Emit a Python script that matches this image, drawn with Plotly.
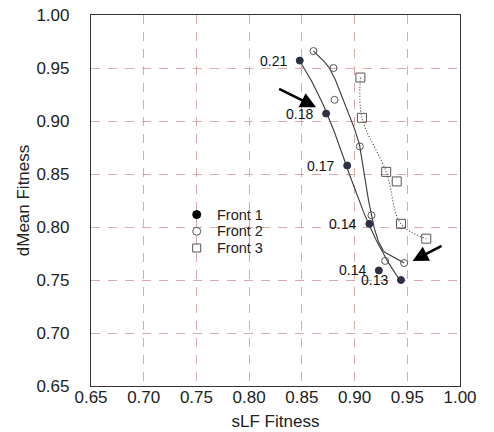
import numpy as np
import plotly.graph_objects as go

# ---- data ----
series_names = ["Front 1", "Front 2", "Front 3"]

front1_x = [0.848, 0.873, 0.893, 0.914, 0.923, 0.944]
front1_y = [0.957, 0.907, 0.858, 0.803, 0.759, 0.750]
front1_labels = ["0.21", "0.18", "0.17", "0.14", "0.14", "0.13"]

front2_x = [0.861, 0.880, 0.881, 0.905, 0.916, 0.929, 0.947]
front2_y = [0.966, 0.950, 0.920, 0.876, 0.811, 0.768, 0.766]

front3_x = [0.9055, 0.907, 0.930, 0.940, 0.944, 0.968]
front3_y = [0.941, 0.903, 0.852, 0.843, 0.803, 0.789]

# trend curves (knots)
trend1_x = [0.848, 0.873, 0.893, 0.914, 0.929, 0.944]
trend1_y = [0.957, 0.907, 0.858, 0.803, 0.768, 0.750]
trend2_x = [0.861, 0.876, 0.889, 0.905, 0.916, 0.927, 0.947]
trend2_y = [0.966, 0.950, 0.920, 0.876, 0.811, 0.778, 0.766]
trend3_x = [0.9055, 0.907, 0.930, 0.944, 0.968]
trend3_y = [0.941, 0.903, 0.852, 0.803, 0.789]

# arrows (tail -> head)
arrow_tail_x = [0.827, 0.984]
arrow_tail_y = [0.931, 0.783]
arrow_head_x = [0.8635, 0.955]
arrow_head_y = [0.913, 0.768]

tick_vals = [0.65, 0.70, 0.75, 0.80, 0.85, 0.90, 0.95, 1.00]
tick_text = ["0.65", "0.70", "0.75", "0.80", "0.85", "0.90", "0.95", "1.00"]

FONT = "Liberation Sans, Arial, Helvetica, sans-serif"
LINE = "#3a3a3a"
GRID = "#d8abab"
DARK = "#2c3040"
GRAY = "#555555"


def smooth_curve(xs, ys, deg=3, n=80):
    """Least-squares polynomial x(y) through the knots, sampled densely."""
    c = np.polyfit(ys, xs, deg)
    yy = np.linspace(max(ys), min(ys), n)
    return np.polyval(c, yy), yy


def pchip_curve(xs, ys, n=120):
    """Monotone cubic (PCHIP) interpolation of x as a function of y."""
    order = np.argsort(ys)
    t = np.asarray(ys, float)[order]
    v = np.asarray(xs, float)[order]
    h = np.diff(t)
    delta = np.diff(v) / h
    m = len(t)
    d = np.zeros(m)
    for k in range(1, m - 1):
        if delta[k - 1] * delta[k] > 0:
            w1 = 2 * h[k] + h[k - 1]
            w2 = h[k] + 2 * h[k - 1]
            d[k] = (w1 + w2) / (w1 / delta[k - 1] + w2 / delta[k])
    d[0] = delta[0]
    d[-1] = delta[-1]
    tq = np.linspace(t[0], t[-1], n)
    idx = np.clip(np.searchsorted(t, tq) - 1, 0, m - 2)
    hh = h[idx]
    s = (tq - t[idx]) / hh
    h00 = 2 * s**3 - 3 * s**2 + 1
    h10 = s**3 - 2 * s**2 + s
    h01 = -2 * s**3 + 3 * s**2
    h11 = s**3 - s**2
    vq = h00 * v[idx] + h10 * hh * d[idx] + h01 * v[idx + 1] + h11 * hh * d[idx + 1]
    return vq, tq


c1x, c1y = smooth_curve(trend1_x, trend1_y)
c2x, c2y = pchip_curve(trend2_x, trend2_y)

fig = go.Figure()

fig.add_trace(go.Scatter(x=c1x, y=c1y, mode="lines", line=dict(color=LINE, width=1.1),
                         showlegend=False, hoverinfo="skip"))
fig.add_trace(go.Scatter(x=c2x, y=c2y, mode="lines", line=dict(color=LINE, width=1.1),
                         showlegend=False, hoverinfo="skip"))
fig.add_trace(go.Scatter(x=trend3_x, y=trend3_y, mode="lines",
                         line=dict(color=LINE, width=1.1, shape="spline", smoothing=1.0, dash="1px,2px"),
                         showlegend=False, hoverinfo="skip"))

fig.add_trace(go.Scatter(x=front1_x, y=front1_y, mode="markers", name=series_names[0],
                         marker=dict(symbol="circle", size=7, color=DARK, line=dict(color=DARK, width=1))))
fig.add_trace(go.Scatter(x=front2_x, y=front2_y, mode="markers", name=series_names[1],
                         marker=dict(symbol="circle-open", size=7, color=GRAY, line=dict(width=1))))
fig.add_trace(go.Scatter(x=front3_x, y=front3_y, mode="markers", name=series_names[2],
                         marker=dict(symbol="square-open", size=9, color=GRAY, line=dict(width=1))))

annotations = []
for x, y, t in zip(front1_x, front1_y, front1_labels):
    annotations.append(dict(x=x, y=y, xref="x", yref="y", text=t, showarrow=False,
                            xanchor="right", yanchor="middle", xshift=-11,
                            font=dict(family=FONT, size=14, color="#111111")))
for tx, ty, hx, hy in zip(arrow_tail_x, arrow_tail_y, arrow_head_x, arrow_head_y):
    annotations.append(dict(x=hx, y=hy, ax=tx, ay=ty, xref="x", yref="y", axref="x", ayref="y",
                            text="", showarrow=True, arrowhead=2, arrowsize=1.2, arrowwidth=2.6,
                            arrowcolor="#000000", standoff=0))

# compact legend (marker + label), positioned in paper coordinates
leg_x = 0.2865
leg_y0 = 0.462
leg_dy = 0.045
shapes = []
for i, name in enumerate(series_names):
    yy = leg_y0 - i * leg_dy
    if i == 0:
        shapes.append(dict(type="circle", xref="paper", yref="paper", xsizemode="pixel", ysizemode="pixel",
                           xanchor=leg_x, yanchor=yy, x0=-4, x1=4, y0=-4, y1=4,
                           fillcolor="#000000", line=dict(color="#000000", width=1)))
    elif i == 1:
        shapes.append(dict(type="circle", xref="paper", yref="paper", xsizemode="pixel", ysizemode="pixel",
                           xanchor=leg_x, yanchor=yy, x0=-4, x1=4, y0=-4, y1=4,
                           fillcolor="rgba(0,0,0,0)", line=dict(color=GRAY, width=1)))
    else:
        shapes.append(dict(type="rect", xref="paper", yref="paper", xsizemode="pixel", ysizemode="pixel",
                           xanchor=leg_x, yanchor=yy, x0=-4, x1=4, y0=-4, y1=4,
                           fillcolor="rgba(0,0,0,0)", line=dict(color=GRAY, width=1)))
    annotations.append(dict(x=leg_x, y=yy, xref="paper", yref="paper", text=name, showarrow=False,
                            xanchor="left", yanchor="middle", xshift=18,
                            font=dict(family=FONT, size=14.5, color="#222222")))

fig.update_layout(
    width=494, height=432,
    margin=dict(l=91, r=34, t=15, b=46),
    paper_bgcolor="white", plot_bgcolor="white",
    font=dict(family=FONT, size=17, color="#222222"),
    showlegend=False,
    annotations=annotations,
    shapes=shapes,
)
fig.update_xaxes(range=[0.65, 1.00], tickvals=tick_vals, ticktext=tick_text,
                 showgrid=True, gridcolor=GRID, griddash="9px,8px", gridwidth=1.2,
                 showline=True, linecolor="#333333", linewidth=1.2, mirror=True,
                 ticks="", ticklabelstandoff=-5, zeroline=False, automargin=False,
                 title=dict(text="sLF Fitness", font=dict(size=17), standoff=9))
fig.update_yaxes(range=[0.65, 1.00], tickvals=tick_vals, ticktext=tick_text,
                 showgrid=True, gridcolor=GRID, griddash="9px,8px", gridwidth=1.2,
                 showline=True, linecolor="#333333", linewidth=1.2, mirror=True,
                 ticks="", ticklabelstandoff=17, zeroline=False, automargin=False,
                 title=dict(text="dMean Fitness", font=dict(size=17), standoff=2))

fig.write_html("out.html")
